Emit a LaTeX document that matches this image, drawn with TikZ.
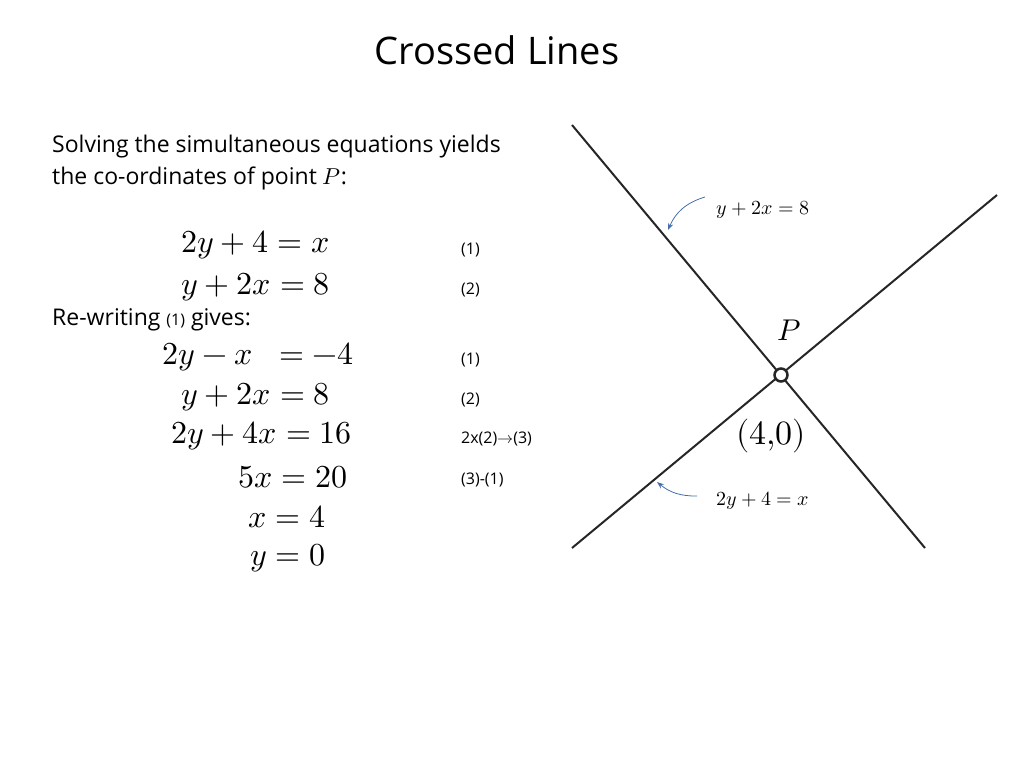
\documentclass[tikz,border=0pt]{standalone}
\usepackage{unicode-math}
\setmainfont{Open Sans}
\setmathfont{Latin Modern Math}
\usetikzlibrary{arrows.meta}
\definecolor{steel}{RGB}{70,110,170}
\begin{document}
\begin{tikzpicture}[x=1pt,y=-1pt,
  txt/.style={font=\fontsize{23}{26}\selectfont, anchor=west, inner sep=0},
  eq/.style={font=\fontsize{32}{36}\selectfont, inner sep=0},
  tag/.style={font=\fontsize{16}{18}\selectfont, anchor=west, inner sep=0},
  lab/.style={font=\fontsize{20}{24}\selectfont, anchor=west, inner sep=0},
  ln/.style={line width=2pt, draw=black!85},
  ar/.style={draw=steel, line width=0.8pt, -{Stealth[length=7pt]}}]
\useasboundingbox (0,0) rectangle (1024,768);
\node[font=\fontsize{38}{44}\selectfont] (title) at (497,50) {Crossed Lines};
\node[txt] (t1) at (52,147) {Solving the simultaneous equations yields};
\node[txt] (t2) at (52,178) {the co-ordinates of point $P$:};
\node[eq, anchor=east] (e1) at (330,245) {$2y+4=x$};
\node[eq, anchor=east] (e2) at (330,287) {$y+2x=8$};
\node[txt] (t3) at (52,320) {Re-writing {\fontsize{16}{18}\selectfont(1)} gives:};
\node[eq, anchor=east] (e3) at (354,357) {$2y-x\;\;=-4$};
\node[eq, anchor=east] (e4) at (330,397) {$y+2x=8$};
\node[eq, anchor=east] (e5) at (352,436) {$2y+4x=16$};
\node[eq, anchor=east] (e6) at (348,477) {$5x=20$};
\node[eq, anchor=east] (e7) at (326,517) {$x=4$};
\node[eq, anchor=east] (e8) at (326,558) {$y=0$};
\node[tag] (g1) at (461,250) {(1)};
\node[tag] (g2) at (461,290) {(2)};
\node[tag] (g3) at (461,360) {(1)};
\node[tag] (g4) at (461,400) {(2)};
\node[tag] (g5) at (461,439) {2x(2)$\rightarrow$(3)};
\node[tag] (g6) at (461,480) {(3)-(1)};
\coordinate (a1) at (572,125);
\coordinate (a2) at (925,548);
\coordinate (b1) at (572,548);
\coordinate (b2) at (997,195);
\draw[ln] (a1) -- (a2);
\draw[ln] (b1) -- (b2);
\node[circle, draw=black!85, line width=2.5pt, fill=white, minimum size=13pt, inner sep=0] (P) at (781,375) {};
\node[font=\fontsize{30}{34}\selectfont] (Pl) at (789,330) {$P$};
\node[font=\fontsize{34}{38}\selectfont] (co) at (771,436) {$(4{,}0)$};
\node[lab] (l1) at (716,210) {$y+2x=8$};
\node[lab] (l2) at (716,501) {$2y+4=x$};
\coordinate (s1) at (705,197);
\coordinate (f1) at (668,230);
\coordinate (s2) at (697,496);
\coordinate (f2) at (657,482);
\draw[ar] (s1) to[bend right=25] (f1);
\draw[ar] (s2) to[bend left=20] (f2);
\end{tikzpicture}
\end{document}
